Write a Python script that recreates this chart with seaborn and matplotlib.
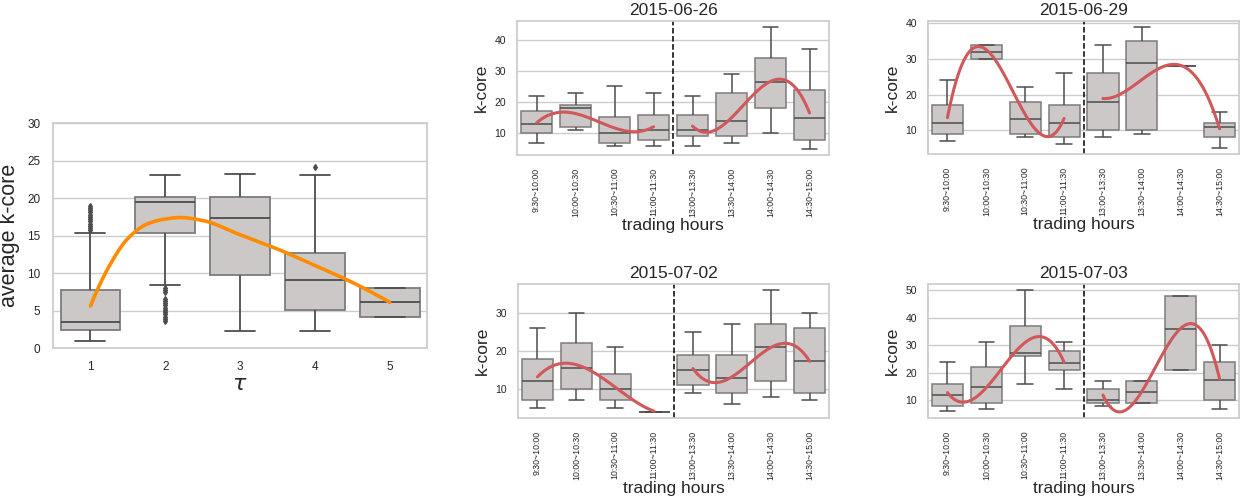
import numpy as np
import pandas as pd
import matplotlib
matplotlib.use("Agg")
import matplotlib.pyplot as plt
import seaborn as sns

sns.set_theme(style="whitegrid")
plt.rcParams['font.family'] = ['Liberation Sans', 'DejaVu Sans']

# ---------------- left panel: tau ----------------
tau_labels = ["1", "2", "3", "4", "5"]
tau_lo = [0.98, 8.4, 2.3, 2.3, 4.2]
tau_q1 = [2.46, 15.35, 9.78, 5.09, 4.2]
tau_med = [3.44, 19.45, 17.3, 9.02, 6.07]
tau_q3 = [7.68, 20.1, 20.18, 12.68, 8.0]
tau_hi = [15.3, 23.1, 23.26, 23.08, 8.0]
tau_outliers = [
    [15.7, 16.0, 16.3, 16.6, 16.9, 17.2, 17.5, 17.8, 18.1, 18.4, 18.7, 19.0],
    [3.6, 3.9, 4.2, 4.5, 4.8, 5.1, 5.4, 5.7, 6.0, 6.3, 6.6, 7.5, 7.8, 8.0],
    [],
    [24.2],
    [],
]
tau_curve_x = [1, 1.25, 1.5, 1.75, 2, 2.2, 2.5, 3, 3.5, 4, 4.5, 5]
tau_curve_y = [5.6, 10.9, 14.6, 16.5, 17.2, 17.4, 17.0, 15.1, 13.2, 11.0, 8.75, 6.1]

# ---------------- right panels: trading hours ----------------
hours = ["9:30~10:00", "10:00~10:30", "10:30~11:00", "11:00~11:30",
         "13:00~13:30", "13:30~14:00", "14:00~14:30", "14:30~15:00"]

d0626_lo = [7, 11, 6, 6, 6, 7, 10, 5]
d0626_q1 = [10, 12, 7, 8, 9, 9, 18, 8]
d0626_med = [13, 18, 10, 11, 11, 14, 26.5, 15]
d0626_q3 = [17, 19, 15.2, 16, 16, 23, 34, 24]
d0626_hi = [22, 23, 25, 23, 22, 29, 44, 37]
d0626_curve = [13.3, 16.3, 11.7, 12.1, 12.3, 15.0, 26.6, 16.5]

d0629_lo = [7, 30, 8, 6, 8, 9, 28, 5]
d0629_q1 = [9, 30, 9, 8, 10, 10, 28, 8]
d0629_med = [12, 32, 13, 12, 18, 29, 28, 11]
d0629_q3 = [17, 34, 18, 17, 26, 35, 28, 12]
d0629_hi = [24, 34, 22, 26, 34, 39, 28, 15]
d0629_curve = [13.5, 32.6, 14.4, 13.3, 18.9, 24.2, 28.2, 10.4]

d0702_lo = [5, 7, 5, 4, 9, 6, 8, 7]
d0702_q1 = [7, 10, 7, 4, 11, 9, 12, 9]
d0702_med = [12, 15.5, 10, 4, 15, 13, 21, 17.5]
d0702_q3 = [18, 22, 14, 4, 19, 19, 27, 26]
d0702_hi = [26, 30, 21, 4, 25, 27, 36, 30]
d0702_curve = [13.2, 16.4, 10.5, 4.2, 15.4, 13.2, 20.9, 17.3]

d0703_lo = [6, 7, 16, 14, 8, 9, 21, 7]
d0703_q1 = [8, 9, 26, 21, 9, 9, 21, 10]
d0703_med = [12, 15, 27, 23.5, 10, 13, 36, 17.5]
d0703_q3 = [16, 22, 37.1, 28, 14, 17, 48, 24]
d0703_hi = [24, 31, 50, 31, 17, 17, 48, 30]
d0703_curve = [12.8, 14.6, 31.0, 23.8, 11.9, 13.2, 36.1, 17.7]

BOX_FILL = "#ccc8c8"
LINE_C = "#4d4d4d"
EDGE_C = "#7d7b7b"


def expand(lo, q1, med, q3, hi, outl, m=50):
    """sample whose quartiles / whiskers reproduce the box statistics"""
    return list(np.repeat([lo, q1, med, q3, hi], m)) + list(outl)


def make_frame(labels, lo, q1, med, q3, hi, outliers=None):
    rows = []
    for i, lab in enumerate(labels):
        outl = outliers[i] if outliers else []
        for v in expand(lo[i], q1[i], med[i], q3[i], hi[i], outl):
            rows.append((lab, v))
    return pd.DataFrame(rows, columns=["cat", "val"])


def pchip(x, y, xs):
    x = np.asarray(x, float)
    y = np.asarray(y, float)
    h = np.diff(x)
    d = np.diff(y) / h
    n = len(x)
    m = np.zeros(n)
    for k in range(1, n - 1):
        if d[k - 1] * d[k] > 0:
            w1 = 2 * h[k] + h[k - 1]
            w2 = h[k] + 2 * h[k - 1]
            m[k] = (w1 + w2) / (w1 / d[k - 1] + w2 / d[k])
    m[0] = ((2 * h[0] + h[1]) * d[0] - h[0] * d[1]) / (h[0] + h[1])
    if np.sign(m[0]) != np.sign(d[0]):
        m[0] = 0
    m[-1] = ((2 * h[-1] + h[-2]) * d[-1] - h[-1] * d[-2]) / (h[-1] + h[-2])
    if np.sign(m[-1]) != np.sign(d[-1]):
        m[-1] = 0
    idx = np.clip(np.searchsorted(x, xs) - 1, 0, n - 2)
    t = (xs - x[idx]) / h[idx]
    h00 = 2 * t**3 - 3 * t**2 + 1
    h10 = t**3 - 2 * t**2 + t
    h01 = -2 * t**3 + 3 * t**2
    h11 = t**3 - t**2
    return (h00 * y[idx] + h10 * h[idx] * m[idx]
            + h01 * y[idx + 1] + h11 * h[idx] * m[idx + 1])


def draw_box(ax, df, order, lw=1.2, fs=3.5):
    sns.boxplot(data=df, x="cat", y="val", order=order, ax=ax,
                color=BOX_FILL, saturation=1, width=0.8, linewidth=lw,
                linecolor=LINE_C, fliersize=fs,
                boxprops=dict(edgecolor=EDGE_C),
                flierprops=dict(marker="d", markerfacecolor=LINE_C,
                                markeredgecolor=LINE_C))


fig = plt.figure(figsize=(12.48, 4.99), dpi=100)

# left panel
axL = fig.add_axes([0.0425, 0.3026, 0.2997, 0.4509])
dfL = make_frame(tau_labels, tau_lo, tau_q1, tau_med, tau_q3, tau_hi, tau_outliers)
draw_box(axL, dfL, tau_labels, lw=1.3, fs=3.0)
cx = np.array(tau_curve_x, dtype=float) - 1
xs = np.linspace(cx[0], cx[-1], 300)
axL.plot(xs, pchip(cx, tau_curve_y, xs), color="darkorange", lw=2.6, zorder=5)
axL.set_xlim(-0.5, len(tau_labels) - 0.5)
axL.set_ylim(0, 30)
axL.set_yticks([0, 5, 10, 15, 20, 25, 30])
axL.tick_params(axis="both", labelsize=8.5, pad=3)
axL.set_xlabel(r"$\tau$", fontsize=16, labelpad=1)
axL.set_ylabel("average k-core", fontsize=15.5, labelpad=5)

panels = [
    ("2015-06-26", [0.4143, 0.6894, 0.2500, 0.2686],
     (d0626_lo, d0626_q1, d0626_med, d0626_q3, d0626_hi), d0626_curve),
    ("2015-06-29", [0.7436, 0.6914, 0.2492, 0.2666],
     (d0629_lo, d0629_q1, d0629_med, d0629_q3, d0629_hi), d0629_curve),
    ("2015-07-02", [0.4151, 0.1623, 0.2492, 0.2686],
     (d0702_lo, d0702_q1, d0702_med, d0702_q3, d0702_hi), d0702_curve),
    ("2015-07-03", [0.7436, 0.1623, 0.2492, 0.2686],
     (d0703_lo, d0703_q1, d0703_med, d0703_q3, d0703_hi), d0703_curve),
]

for title, rect, stats, curve in panels:
    ax = fig.add_axes(rect)
    df = make_frame(hours, *stats)
    draw_box(ax, df, hours, lw=1.1)
    for half in (0, 1):
        px = np.arange(4 * half, 4 * half + 4, dtype=float)
        py = curve[4 * half: 4 * half + 4]
        c = np.polyfit(px, py, 3)
        xs = np.linspace(px[0], px[-1], 120)
        ax.plot(xs, np.polyval(c, xs), color="#d1585a", lw=2.2, zorder=5)
    ax.axvline(3.5, color="black", ls="--", lw=1.1)
    ax.set_xlim(-0.5, len(hours) - 0.5)
    ax.set_title(title, fontsize=12.5, pad=4)
    ax.set_xlabel("trading hours", fontsize=12.5, labelpad=1)
    ax.set_ylabel("k-core", fontsize=12.5, labelpad=4)
    ax.tick_params(axis="y", labelsize=7.5, pad=2)
    ax.tick_params(axis="x", labelsize=6.3, pad=3)
    for lab in ax.get_xticklabels():
        lab.set_rotation(90)

fig.savefig("out.png", dpi=100)
